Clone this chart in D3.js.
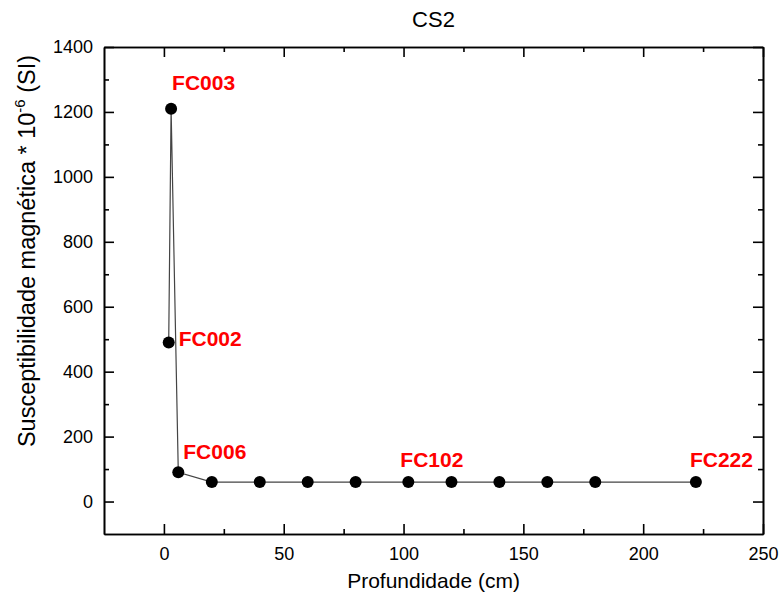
<!DOCTYPE html>
<html>
<head>
<meta charset="utf-8">
<script src="https://cdn.jsdelivr.net/npm/d3@7"></script>
<style>
  body { margin: 0; background: #fff; }
  svg { font-family: "Liberation Sans", Arial, sans-serif; }
  .axis path, .axis line { stroke: #000; stroke-width: 1.6; }
  .axis text { font-size: 18px; fill: #000; }
</style>
</head>
<body>
<div id="chart"></div>
<script>
// depth (cm) and magnetic susceptibility (10^-6 SI)
var depths = [2, 3, 6, 20, 40, 60, 80, 102, 120, 140, 160, 180, 222];
var values = [490, 1210, 90, 60, 60, 60, 60, 60, 60, 60, 60, 60, 60];
var sampleNames = ["FC002", "FC003", "FC006", "", "", "", "", "FC102", "", "", "", "", "FC222"];

var xTicks = [0, 50, 100, 150, 200, 250];
var yTicks = [0, 200, 400, 600, 800, 1000, 1200, 1400];

// label offsets from the point, in px
var labelOffset = {
  FC002: [10, 4],
  FC003: [1, -19],
  FC006: [5, -13],
  FC102: [-8, -15],
  FC222: [-6, -15]
};

var svgWidth = 779;
var svgHeight = 598;
var margin = { top: 47, right: 16, bottom: 64, left: 104 };
var width = svgWidth - margin.left - margin.right;
var height = svgHeight - margin.top - margin.bottom;

var svg = d3.select("#chart")
  .append("svg")
  .attr("width", svgWidth)
  .attr("height", svgHeight);

var chartGroup = svg.append("g")
  .attr("transform", `translate(${margin.left}, ${margin.top})`);

var data = depths.map((d, i) => ({ depth: d, value: values[i], name: sampleNames[i] }));

var xScale = d3.scaleLinear().domain([-25, 250]).range([0, width]);
var yScale = d3.scaleLinear().domain([-100, 1400]).range([height, 0]);

var xMinor = d3.range(25, 250, 50);
var yMinor = d3.range(100, 1400, 200);
var plain = d3.format("d");

// major + minor ticks on all four sides, pointing inward
chartGroup.append("g").attr("class", "axis")
  .attr("transform", `translate(0, ${height})`)
  .call(d3.axisBottom(xScale).tickValues(xTicks).tickFormat(plain).tickSizeInner(-10).tickSizeOuter(0).tickPadding(13));
chartGroup.append("g").attr("class", "axis")
  .attr("transform", `translate(0, ${height})`)
  .call(d3.axisBottom(xScale).tickValues(xMinor).tickSizeInner(-5).tickSizeOuter(0).tickFormat(""));

chartGroup.append("g").attr("class", "axis")
  .call(d3.axisTop(xScale).tickValues(xTicks).tickSizeInner(-10).tickSizeOuter(0).tickFormat(""));
chartGroup.append("g").attr("class", "axis")
  .call(d3.axisTop(xScale).tickValues(xMinor).tickSizeInner(-5).tickSizeOuter(0).tickFormat(""));

chartGroup.append("g").attr("class", "axis")
  .call(d3.axisLeft(yScale).tickValues(yTicks).tickFormat(plain).tickSizeInner(-10).tickSizeOuter(0).tickPadding(11));
chartGroup.append("g").attr("class", "axis")
  .call(d3.axisLeft(yScale).tickValues(yMinor).tickSizeInner(-5).tickSizeOuter(0).tickFormat(""));

chartGroup.append("g").attr("class", "axis")
  .attr("transform", `translate(${width}, 0)`)
  .call(d3.axisRight(yScale).tickValues(yTicks).tickSizeInner(-10).tickSizeOuter(0).tickFormat(""));
chartGroup.append("g").attr("class", "axis")
  .attr("transform", `translate(${width}, 0)`)
  .call(d3.axisRight(yScale).tickValues(yMinor).tickSizeInner(-5).tickSizeOuter(0).tickFormat(""));

// line and points
var line = d3.line()
  .x(d => xScale(d.depth))
  .y(d => yScale(d.value));

chartGroup.append("path")
  .datum(data)
  .attr("d", line)
  .attr("fill", "none")
  .attr("stroke", "#444")
  .attr("stroke-width", 1.2);

chartGroup.selectAll("circle")
  .data(data)
  .enter()
  .append("circle")
  .attr("cx", d => xScale(d.depth))
  .attr("cy", d => yScale(d.value))
  .attr("r", 6)
  .attr("fill", "#000");

chartGroup.selectAll(".sample")
  .data(data.filter(d => d.name))
  .enter()
  .append("text")
  .attr("class", "sample")
  .attr("x", d => xScale(d.depth) + labelOffset[d.name][0])
  .attr("y", d => yScale(d.value) + labelOffset[d.name][1])
  .attr("font-size", "21px")
  .attr("font-weight", "bold")
  .attr("fill", "#ff0000")
  .text(d => d.name);

// titles
svg.append("text")
  .attr("x", margin.left + width / 2)
  .attr("y", 27)
  .attr("text-anchor", "middle")
  .attr("font-size", "22px")
  .text("CS2");

svg.append("text")
  .attr("x", margin.left + width / 2)
  .attr("y", 588)
  .attr("text-anchor", "middle")
  .attr("font-size", "21px")
  .text("Profundidade (cm)");

var yTitle = svg.append("text")
  .attr("transform", "translate(35, 251) rotate(-90)")
  .attr("text-anchor", "middle")
  .attr("font-size", "23.5px");
yTitle.append("tspan").text("Susceptibilidade magnética * 10");
yTitle.append("tspan").attr("dy", -10).attr("font-size", "15px").text("-6");
yTitle.append("tspan").attr("dy", 10).text(" (SI)");
</script>
</body>
</html>
